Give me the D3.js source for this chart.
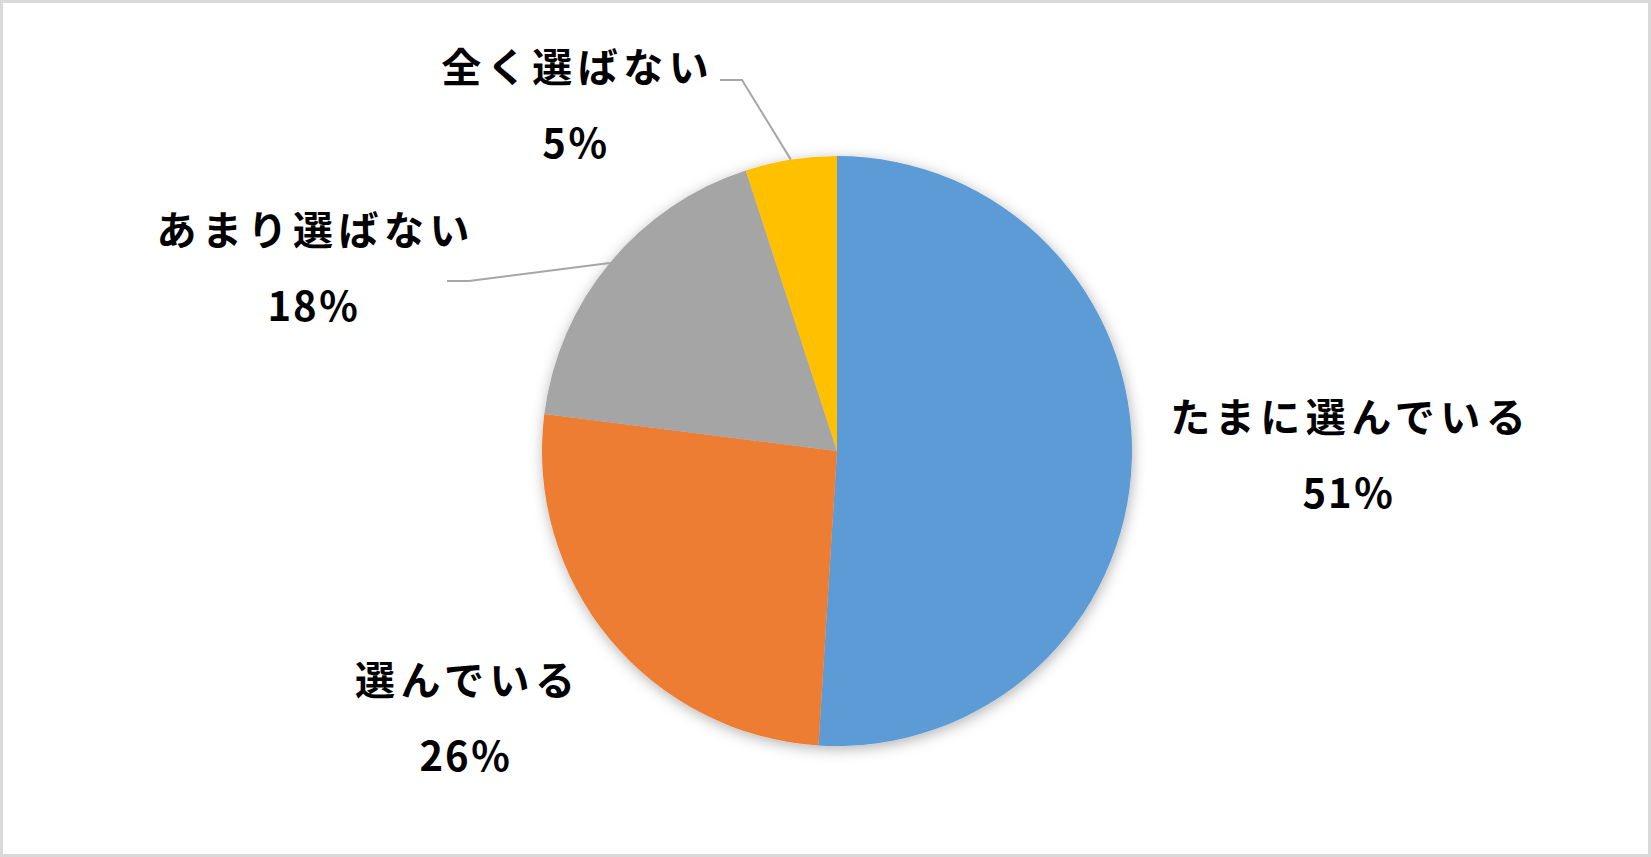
<!DOCTYPE html>
<html>
  <head>
    <meta charset="utf-8">
    <title>選択状況</title>
    <script type="text/javascript" src="https://cdn.jsdelivr.net/npm/d3@7"></script>
    <style>
      body { margin: 0; background: #fff; }
      svg { display: block; }
    </style>
  </head>
  <body>
    <script type="text/javascript">
     // data
     let categories = ["たまに選んでいる", "選んでいる", "あまり選ばない", "全く選ばない"];
     let values = [51, 26, 18, 5];
     let colors = ["#5b9bd5", "#ed7d31", "#a5a5a5", "#ffc000"];

     // label placement, offsets from the pie centre (first line baseline)
     let labelOffsets = [[511, -19], [-372, 244], [-524, -206], [-262, -369]];
     // leader end next to the label (null = no leader)
     let leaderOffsets = [null, null, [-390, -170], [-117, -371]];

     // set the canvas
     let w = 1651;
     let h = 857;
     let cx = 837;
     let cy = 451;
     let radius = 295;

     let svg = d3.select("body").append("svg")
		 .attr("width", w)
		 .attr("height", h);

     svg.append("rect")
	.attr("x", 1.5)
	.attr("y", 1.5)
	.attr("width", w - 3)
	.attr("height", h - 3)
	.attr("fill", "#fff")
	.attr("stroke", "#d9d9d9")
	.attr("stroke-width", 3);

     // soft shadow round the pie
     let defs = svg.append("defs");
     defs.append("filter")
	 .attr("id", "shadow")
	 .attr("x", "-20%").attr("y", "-20%")
	 .attr("width", "140%").attr("height", "140%")
	 .append("feDropShadow")
	 .attr("dx", 1)
	 .attr("dy", 3)
	 .attr("stdDeviation", 7)
	 .attr("flood-color", "#000")
	 .attr("flood-opacity", 0.3);

     let pie = d3.pie().sort(null).value((d) => d);
     let arcs = pie(values);
     let arc = d3.arc().innerRadius(0).outerRadius(radius);

     let g = svg.append("g")
		.attr("transform", "translate(" + cx + ", " + cy + ")");

     g.append("g")
      .attr("filter", "url(#shadow)")
      .selectAll("path")
      .data(arcs)
      .enter()
      .append("path")
      .attr("d", arc)
      .attr("fill", (d, i) => colors[i]);

     // leader lines: from slice edge at mid angle to an elbow, then a short flat run
     let edge = d3.arc().innerRadius(radius).outerRadius(radius);
     g.selectAll("polyline")
      .data(arcs.filter((d, i) => leaderOffsets[i]))
      .enter()
      .append("polyline")
      .attr("points", (d) => {
	let p = edge.centroid(d);
	let q = leaderOffsets[d.index];
	return [p, [q[0] + 22, q[1]], q].map((v) => v.join(",")).join(" ");
      })
      .attr("fill", "none")
      .attr("stroke", "#a6a6a6")
      .attr("stroke-width", 2);

     // labels
     let ls = 5.5;
     let labels = g.selectAll("g.label")
		   .data(arcs)
		   .enter()
		   .append("g")
		   .attr("class", "label")
		   .attr("transform", (d, i) => "translate(" + labelOffsets[i][0] + ", " + labelOffsets[i][1] + ")")
		   .attr("font-family", "'Noto Sans CJK JP', 'Noto Sans', sans-serif")
		   .attr("font-weight", "bold")
		   .attr("fill", "#000")
		   .attr("text-anchor", "middle");

     labels.append("text")
	   .attr("x", ls / 2)
	   .attr("font-size", 40)
	   .attr("letter-spacing", ls)
	   .text((d, i) => categories[i]);

     labels.append("text")
	   .attr("x", 1)
	   .attr("y", 76)
	   .attr("font-size", 40)
	   .attr("letter-spacing", 2)
	   .text((d) => d.data + "％");
    </script>
  </body>
</html>
